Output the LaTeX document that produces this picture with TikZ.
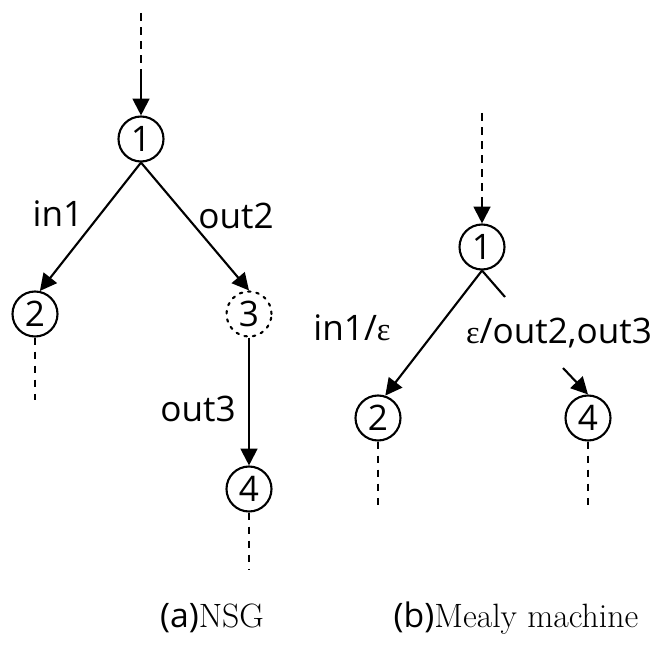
\documentclass[tikz,border=0pt]{standalone}
\usepackage{fontspec}
\newfontfamily\lblfont{Open Sans}
\newfontfamily\grkfont{Liberation Serif}
\newcommand{\eps}{{\grkfont\fontsize{23}{27}\selectfont ε}}
\usetikzlibrary{arrows.meta}
\tikzset{
  st/.style={circle,draw,minimum size=32pt,inner sep=0pt},
  stdot/.style={st,dash pattern=on 1.8pt off 4.2pt,line cap=round},
  tr/.style={-{Triangle[length=12pt,width=12pt]}},
  cont/.style={dash pattern=on 5.5pt off 4.5pt},
  captext/.style={font=\lblfont\fontsize{24}{28}\selectfont},
}
\begin{document}
\begin{tikzpicture}[x=.025cm,y=-.025cm,line width=1.5pt,
    font=\lblfont\fontsize{25}{29}\selectfont]
  \useasboundingbox (0,0) rectangle (661,648);
  % (a) NSG
  \node[st] (a1) at (141,139) {1};
  \node[st] (a2) at (35,314) {2};
  \node[stdot] (a3) at (249,314) {3};
  \node[st] (a4) at (249,489) {4};
  \coordinate (atop) at (141,13);
  \coordinate (amid) at (141,74);
  \coordinate (aend2) at (35,400);
  \coordinate (aend4) at (249,570);
  \draw[cont] (atop)--(amid);
  \draw[tr] (amid)--(a1);
  \draw[tr] (a1.south)--(a2.78);
  \draw[tr] (a1.south)--(a3.north);
  \draw[tr] (a3)--(a4);
  \draw[cont] (a2)--(aend2);
  \draw[cont] (a4)--(aend4);
  \node (lin) at (58,214) {in1};
  \node (lout2) at (236,216) {out2};
  \node (lout3) at (198,409) {out3};
  % (b) Mealy machine
  \node[st] (b1) at (482,247) {1};
  \node[st] (b2) at (378,418) {2};
  \node[st] (b4) at (588,418) {4};
  \coordinate (btop) at (482,113);
  \coordinate (bmid) at (482,197);
  \coordinate (bstub) at (505,297);
  \coordinate (bgo) at (563,368);
  \coordinate (bend2) at (378,505);
  \coordinate (bend4) at (588,505);
  \draw[cont] (btop)--(bmid);
  \draw[tr] (bmid)--(b1);
  \draw[tr] (b1.south)--(b2.72);
  \draw (b1.south)--(bstub);
  \draw[tr] (bgo)--(b4.north);
  \draw[cont] (b2)--(bend2);
  \draw[cont] (b4)--(bend4);
  \node (lineps) at (352,328) {in1/\eps};
  \node (lepsout) at (559,333) {\eps/out2,out3};
  % captions
  \node[captext] (capa) at (212,618) {(a)\rmfamily NSG};
  \node[captext] (capb) at (516,618) {(b)\rmfamily Mealy machine};
\end{tikzpicture}
\end{document}
